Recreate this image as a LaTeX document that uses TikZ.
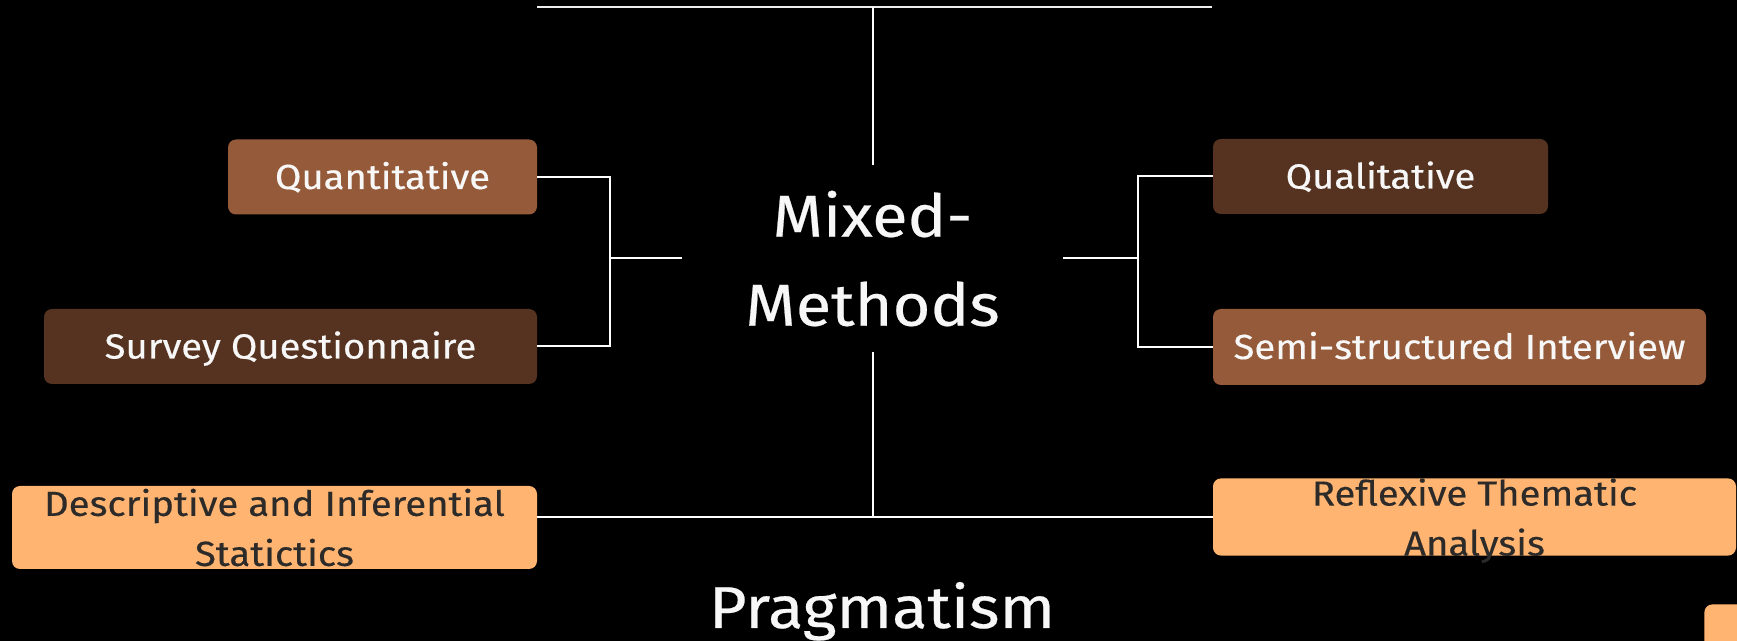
\documentclass[tikz,border=0pt]{standalone}
\usepackage{fontspec}
\setmainfont{Fira Sans}[FakeStretch=1.1, FakeBold=0.4]
\begin{document}
\begin{tikzpicture}[x=0.5pt,y=-0.5pt,
  conn/.style={draw=white, line width=1pt},
  topconn/.style={draw=white!93!black, line width=1.2pt},
  box/.style={rounded corners=4pt, inner sep=0pt, text height=12pt, text depth=0pt},
  midbrown/.style={box, fill=cMid, text=cWhite},
  darkbrown/.style={box, fill=cDark, text=cWhite},
  lightbox/.style={rounded corners=4pt, inner sep=0pt, fill=cLight, text=cInk},
  boxfont/.style={font=\fontsize{17.4}{25}\selectfont},
  bigfont/.style={font=\fontsize{29.5}{44.5}\selectfont}
]
\definecolor{cMid}{HTML}{955A39}
\definecolor{cDark}{HTML}{553320}
\definecolor{cLight}{HTML}{FFB571}
\definecolor{cInk}{HTML}{2D2B29}
\definecolor{cWhite}{HTML}{F7F7F7}
\fill[black] (0,0) rectangle (1737,641);
\useasboundingbox (0,0) rectangle (1737,641);
\clip (0,0) rectangle (1737,641);

% centre
\node[bigfont, text=cWhite, align=center, inner sep=0pt,
      minimum width=381*0.5pt, minimum height=187*0.5pt] (mm) at (872.5,258.5) {Mixed-\\Methods};

% boxes
\node[midbrown, boxfont, minimum width=309*0.5pt, minimum height=75*0.5pt] (q) at (382.5,177) {Quantitative};
\node[darkbrown, boxfont, minimum width=493*0.5pt, minimum height=75*0.5pt] (s) at (290.5,346.5) {Survey Questionnaire};
\node[darkbrown, boxfont, minimum width=335*0.5pt, minimum height=75*0.5pt] (ql) at (1380.5,176.5) {Qualitative};
\node[midbrown, boxfont, minimum width=493*0.5pt, minimum height=76*0.5pt] (si) at (1459.5,347) {Semi-structured Interview};
\node[lightbox, boxfont, align=center, minimum width=525*0.5pt, minimum height=83*0.5pt] (d) at (274.5,527.5) {Descriptive and Inferential\\Statictics};
\node[lightbox, boxfont, align=center, text depth=0pt, minimum width=523*0.5pt, minimum height=76*0.5pt] (r) at (1474.5,517) {Reflexive Thematic\\Analysis};
\node[rounded corners=4pt, fill=cLight, inner sep=0pt, minimum width=70*0.5pt, minimum height=70*0.5pt, anchor=north west] (corner) at (1704,604) {};

% title
\node[bigfont, text=cWhite, anchor=base, inner sep=0pt] (prag) at (882,628) {Pragmatism};

% coordinates
\coordinate (tl) at (537,7);
\coordinate (tr) at (1212,7);
\coordinate (tm) at (872.5,7);
\coordinate (lj) at (610,258.5);
\coordinate (rj) at (1138,258.5);
\coordinate (bj) at (872.5,517);

% connectors
\draw[topconn] (tl) -- (tr);
\draw[conn] (mm.north) -- (tm);
\draw[conn] (mm.west) -- (lj);
\draw[conn] (q.east) -| (lj) |- (s.east);
\draw[conn] (mm.east) -- (rj);
\draw[conn] (ql.west) -| (rj) |- (si.west);
\draw[conn] (mm.south) -- (bj);
\draw[conn] (bj -| d.east) -- (r.west);
\end{tikzpicture}
\end{document}
